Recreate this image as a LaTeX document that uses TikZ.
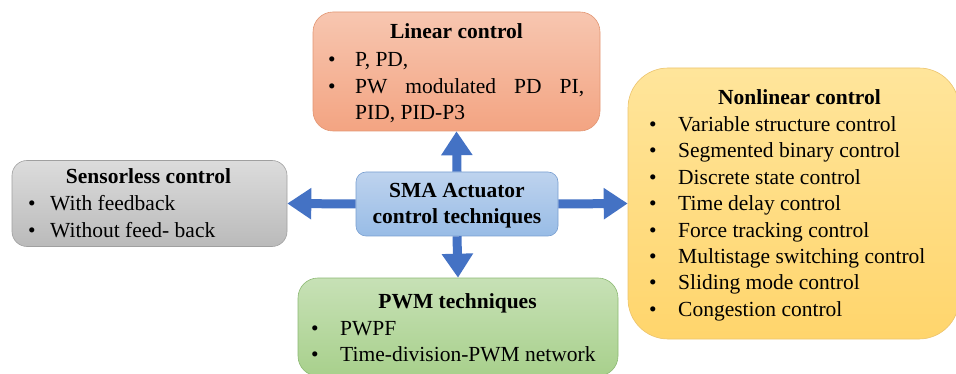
\documentclass[tikz,border=0pt]{standalone}
\usepackage{fontspec}
\setmainfont{Liberation Serif}
\usetikzlibrary{arrows.meta}
\definecolor{arrowblue}{RGB}{68,114,196}
\definecolor{linTop}{RGB}{247,198,176}
\definecolor{linBot}{RGB}{243,164,130}
\definecolor{linDraw}{RGB}{226,150,115}
\definecolor{senTop}{RGB}{220,220,220}
\definecolor{senBot}{RGB}{186,186,186}
\definecolor{senDraw}{RGB}{160,160,160}
\definecolor{smaTop}{RGB}{190,211,238}
\definecolor{smaBot}{RGB}{152,188,230}
\definecolor{smaDraw}{RGB}{120,158,208}
\definecolor{pwmTop}{RGB}{199,225,182}
\definecolor{pwmBot}{RGB}{168,208,140}
\definecolor{pwmDraw}{RGB}{140,185,115}
\definecolor{nonTop}{RGB}{255,229,155}
\definecolor{nonBot}{RGB}{255,213,108}
\definecolor{nonDraw}{RGB}{236,196,110}
\begin{document}
\begin{tikzpicture}[x=1pt,y=-1pt,
  panel/.style={draw, line width=0.6pt, shading=axis, inner sep=0pt},
  txt/.style={inner sep=0pt, font=\fontsize{21.5}{26.4}\selectfont},
  ttl/.style={txt, anchor=base, font=\fontsize{21.5}{26.4}\selectfont\bfseries},
  lst/.style={txt, anchor=base west},
  conn/.style={line width=9pt, draw=arrowblue, -{Triangle[width=30pt,length=24pt]}}]
\useasboundingbox (0,0) rectangle (956,374);
% boxes
\node[panel, rounded corners=20pt, top color=linTop, bottom color=linBot, draw=linDraw,
      minimum width=287pt, minimum height=119pt] (lin) at (456.5,71.5) {};
\node[panel, rounded corners=15pt, top color=senTop, bottom color=senBot, draw=senDraw,
      minimum width=275pt, minimum height=86pt] (sen) at (149.5,203.5) {};
\node[panel, rounded corners=10pt, top color=smaTop, bottom color=smaBot, draw=smaDraw,
      minimum width=202pt, minimum height=64pt] (sma) at (457,204) {};
\node[panel, rounded corners=20pt, top color=pwmTop, bottom color=pwmBot, draw=pwmDraw,
      minimum width=320pt, minimum height=98pt] (pwm) at (458,327) {};
\node[panel, rounded corners=40pt, top color=nonTop, bottom color=nonBot, draw=nonDraw,
      minimum width=331pt, minimum height=271pt] (non) at (793.5,203.5) {};
% connectors
\draw[conn] (sma.north) -- (lin.south);
\draw[conn] (sma.south) -- (pwm.north);
\draw[conn] (sma.west) -- (sen.east);
\draw[conn] (sma.east) -- (non.west);
% texts
\node[ttl] (smat1) at (457,198) {SMA Actuator};
\node[ttl] (smat2) at (457,224) {control techniques};

\node[ttl] (lint) at (456.5,39) {Linear control};
\node[lst] (linl) at (328,67) {\begin{tabular}[t]{@{}p{27pt}@{}l@{}}
\textbullet & P, PD,\\
\textbullet & \makebox[229pt][s]{PW modulated PD PI,}\\
 & PID, PID-P3
\end{tabular}};

\node[ttl] (sent) at (148.5,184) {Sensorless control};
\node[lst] (senl) at (28,211) {\begin{tabular}[t]{@{}p{22pt}@{}l@{}}
\textbullet & With feedback\\
\textbullet & Without feed- back
\end{tabular}};

\node[ttl] (pwmt) at (457.5,308) {PWM techniques};
\node[lst] (pwml) at (311,335) {\begin{tabular}[t]{@{}p{29pt}@{}l@{}}
\textbullet & PWPF\\
\textbullet & Time-division-PWM network
\end{tabular}};

\node[ttl] (nont) at (799.5,105) {Nonlinear control};
\node[lst] (nonl) at (649,131.5) {\begin{tabular}[t]{@{}p{29pt}@{}l@{}}
\textbullet & Variable structure control\\
\textbullet & Segmented binary control\\
\textbullet & Discrete state control\\
\textbullet & Time delay control\\
\textbullet & Force tracking control\\
\textbullet & Multistage switching control\\
\textbullet & Sliding mode control\\
\textbullet & Congestion control
\end{tabular}};
\end{tikzpicture}
\end{document}
